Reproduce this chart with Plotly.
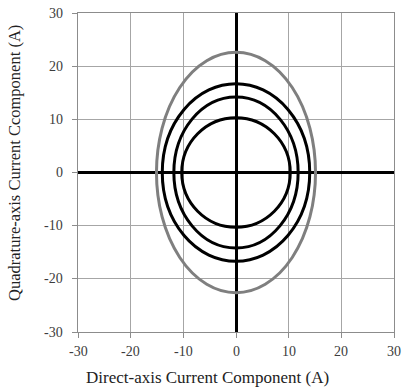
import plotly.graph_objects as go

# Ellipse semi-axes (A): direct-axis radius and quadrature-axis radius
d_radius = [10.3, 11.8, 14.0, 15.1]
q_radius = [10.3, 14.2, 16.7, 22.6]
curve_colors = ["#000000", "#000000", "#000000", "#7f7f7f"]

tick_vals = [-30, -20, -10, 0, 10, 20, 30]
tick_text = ["-30", "-20", "-10", "0", "10", "20", "30"]

x_title = "Direct-axis Current Component (A)"
y_title = "Quadrature-axis Current Ccomponent (A)"

FONT = "Liberation Serif"
GRID = "#a6a6a6"
LABEL_COLOR = "#3c3c3c"

fig = go.Figure()
fig.add_trace(go.Scatter(x=[None], y=[None], mode="lines", showlegend=False, hoverinfo="skip"))

shapes = []
for a, b, c in zip(d_radius, q_radius, curve_colors):
    shapes.append(dict(type="circle", xref="x", yref="y", x0=-a, x1=a, y0=-b, y1=b,
                       line=dict(color=c, width=3), layer="above"))

axis_common = dict(
    range=[-30, 30], tickmode="array", tickvals=tick_vals,
    showticklabels=False,
    showgrid=True, gridcolor=GRID, gridwidth=1,
    zeroline=True, zerolinecolor="#000000", zerolinewidth=2.5,
    showline=True, linecolor="#8c8c8c", linewidth=1, mirror=True,
    ticks="outside", ticklen=5, tickcolor="#8c8c8c", tickwidth=1,
    fixedrange=True,
)
fig.update_xaxes(**axis_common)
fig.update_yaxes(**axis_common)

annotations = []
# tick labels (serif), placed at tick values on the data axes
for v, t in zip(tick_vals, tick_text):
    annotations.append(dict(text=t, xref="x", x=v, yref="paper", y=(332 - 352) / 319,
                            xanchor="center", yanchor="middle", showarrow=False,
                            font=dict(family=FONT, size=14, color=LABEL_COLOR)))
    annotations.append(dict(text=t, xref="paper", x=(65 - 78) / 316, yref="y", y=v,
                            xanchor="right", yanchor="middle", showarrow=False,
                            font=dict(family=FONT, size=14, color=LABEL_COLOR)))

annotations.append(dict(text=x_title, xref="paper", yref="paper", x=0.41, y=-0.144,
                        xanchor="center", yanchor="middle", showarrow=False,
                        font=dict(family=FONT, size=17, color="#222222")))
annotations.append(dict(text=y_title, xref="paper", yref="paper", x=(14 - 78) / 316,
                        y=(332 - 163) / 319, xanchor="center", yanchor="middle",
                        showarrow=False, textangle=-90,
                        font=dict(family=FONT, size=16.5, color="#222222")))

fig.update_layout(
    width=402, height=388,
    margin=dict(l=78, r=8, t=13, b=56),
    paper_bgcolor="white", plot_bgcolor="white",
    font=dict(family=FONT),
    showlegend=False,
    shapes=shapes,
    annotations=annotations,
)

fig.write_html("out.html")
